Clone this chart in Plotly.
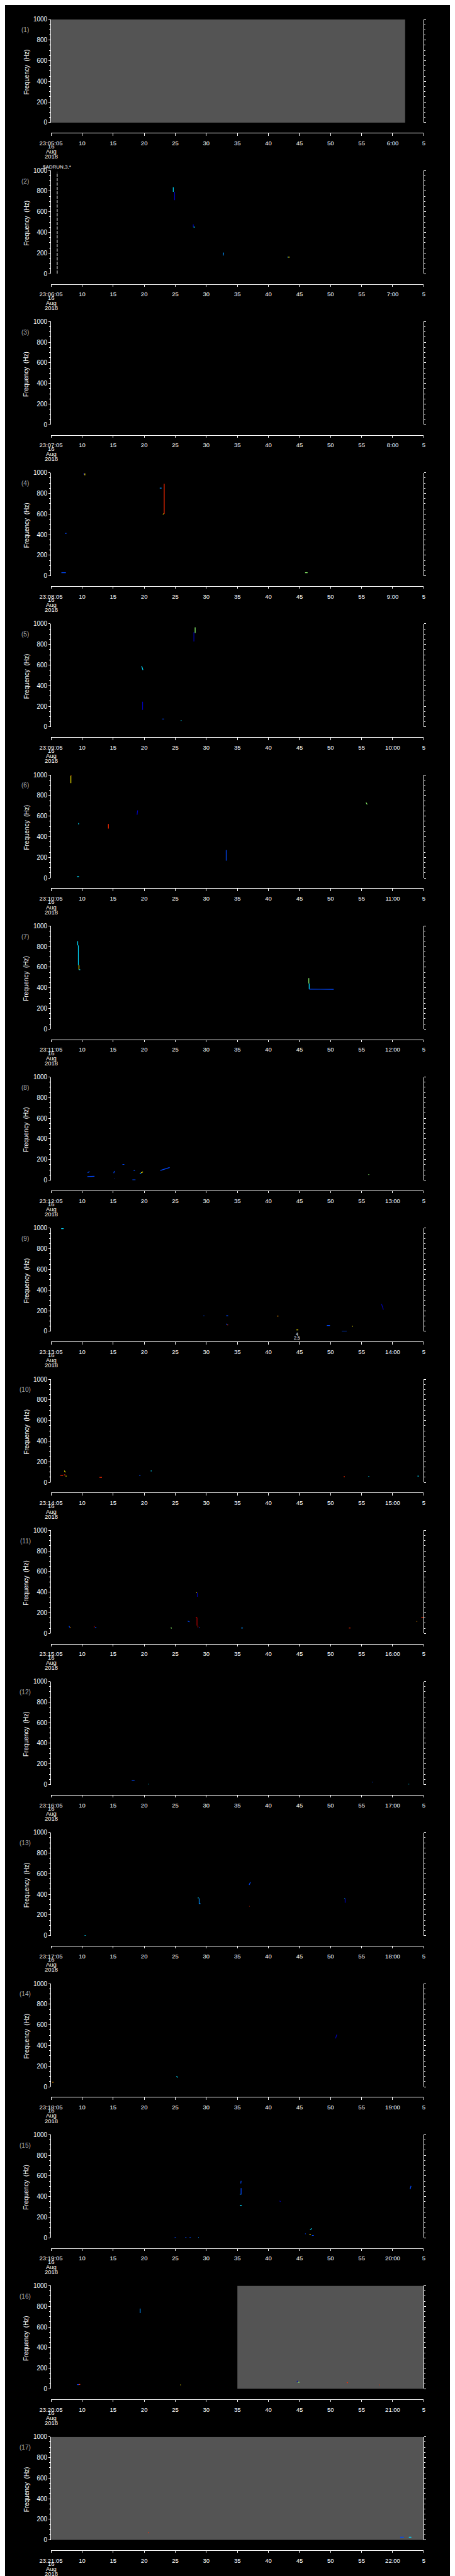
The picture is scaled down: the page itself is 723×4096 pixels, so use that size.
import plotly.graph_objects as go

# ---------------- data ----------------
N_PANELS = 17
FREQ_TICKS = [0, 200, 400, 600, 800, 1000]
TIME_TICKS = [0, 5, 10, 15, 20, 25, 30, 35, 40, 45, 50, 55, 60]
MID_TICK_TEXT = ["10", "15", "20", "25", "30", "35", "40", "45", "50", "55"]
DATE_LINES = ["16", "Aug", "2018"]

# no-data (gray) blocks: panel, start s, end s
GAP_PANEL = [1, 16, 17]
GAP_T0 = [0, 30, 0]
GAP_T1 = [57, 60, 60]

COLORS = {
    "dblue": "#0000b8", "blue": "#0048ff", "lblue": "#0090ff", "cyan": "#00dcff",
    "green": "#90ff70", "yellow": "#ffee00", "orange": "#ff9a00", "red": "#ff2a00",
    "dred": "#b00000",
}

# spectrogram traces: panel, t0, f0, t1, f1, colour key
SEG_PANEL = [2, 2, 2, 2, 2, 2, 2,
             4, 4, 4, 4, 4, 4, 4, 4,
             5, 5, 5, 5, 5, 5,
             6, 6, 6, 6, 6, 6, 6, 6,
             7, 7, 7, 7, 7, 7, 7,
             8, 8, 8, 8, 8, 8, 8, 8, 8, 8, 8,
             9, 9, 9, 9, 9, 9, 9, 9, 9, 9, 9,
             10, 10, 10, 10, 10, 10, 10, 10, 10, 10,
             11, 11, 11, 11, 11, 11, 11, 11, 11, 11, 11, 11, 11, 11, 11, 11,
             12, 12, 12, 12,
             13, 13, 13, 13, 13, 13, 13, 13,
             14, 14, 14,
             15, 15, 15, 15, 15, 15, 15, 15, 15, 15, 15, 15, 15, 15,
             16, 16, 16, 16, 16, 16, 16, 16,
             17, 17, 17]
SEG_T0 = [19.68, 19.9, 22.9, 22.95, 27.7, 38.05, 38.2,
          5.3, 5.45, 17.5, 18.22, 18.0, 2.25, 1.67, 40.9,
          23.2, 23.0, 14.6, 14.74, 17.9, 20.9,
          3.2, 3.2, 4.44, 9.24, 13.85, 28.2, 50.7, 4.2,
          4.3, 4.4, 4.5, 4.5, 41.5, 41.56, 41.56,
          5.9, 5.85, 10.1, 10.2, 11.5, 13.3, 13.1, 14.3, 14.5, 17.6, 51.1,
          1.64, 24.56, 28.2, 28.2, 28.4, 36.4, 39.5, 44.4, 46.8, 48.45, 53.2,
          1.5, 2.15, 2.1, 2.35, 7.8, 14.2, 16.05, 47.1, 51.1, 59.0,
          23.4, 23.55, 23.3, 23.5, 23.65, 23.8, 2.9, 3.1, 6.95, 7.1, 19.3, 22.0, 30.6, 47.95, 58.85, 59.6,
          13.0, 15.7, 51.65, 57.55,
          5.4, 23.7, 23.85, 23.85, 31.9, 31.9, 47.2, 47.35,
          45.8, 20.2, 0.2,
          30.55, 30.6, 30.4, 30.4, 36.8, 57.8, 19.9, 21.6, 22.3, 23.7, 41.7, 40.9, 41.6, 42.0,
          14.35, 4.2, 4.5, 20.8, 39.6, 39.7, 47.6, 52.8,
          15.6, 56.2, 57.6]
SEG_F0 = [837, 793, 478, 451, 175, 160, 160,
          997, 993, 850, 892, 597, 412, 30, 30,
          966, 919, 589, 245, 77, 61,
          992, 998, 532, 523, 613, 271, 732, 13,
          852, 811, 619, 576, 495, 442, 387,
          72, 35, 68, 16, 153, 94, 3, 61, 70, 94, 55,
          995, 150, 150, 73, 63, 147, 13, 56, 1, 50, 265,
          68, 113, 73, 60, 48, 68, 111, 55, 58, 60,
          395, 395, 155, 155, 76, 58, 73, 58, 73, 57, 58, 121, 53, 53, 115, 152,
          42, 2, 23, 2,
          1, 371, 362, 310, 492, 284, 361, 361,
          468, 102, 44,
          527, 482, 421, 315, 358, 471, 2, 2, 2, 2, 79, 39, 31, 23,
          779, 42, 43, 39, 77, 65, 60, 39,
          69, 26, 26]
SEG_T1 = [19.68, 19.9, 22.9, 23.15, 27.8, 38.2, 38.4,
          5.3, 5.45, 17.8, 18.22, 18.15, 2.5, 2.4, 41.3,
          23.2, 23.0, 14.8, 14.74, 18.2, 21.0,
          3.2, 3.3, 4.44, 9.24, 13.95, 28.2, 50.9, 4.5,
          4.3, 4.4, 4.5, 4.7, 41.5, 41.56, 45.5,
          6.2, 7.0, 10.2, 10.25, 11.8, 13.5, 13.6, 14.5, 14.8, 19.1, 51.2,
          2.03, 24.66, 28.5, 28.4, 28.5, 36.6, 39.8, 44.9, 47.6, 48.6, 53.5,
          1.95, 2.3, 2.3, 2.5, 8.2, 14.4, 16.2, 47.3, 51.2, 59.2,
          23.5, 23.55, 23.5, 23.5, 23.65, 23.9, 3.0, 3.2, 6.95, 7.3, 19.4, 22.3, 30.9, 48.2, 58.95, 60.0,
          13.45, 15.8, 51.75, 57.65,
          5.6, 23.7, 23.85, 24.05, 32.1, 31.95, 47.25, 47.35,
          46.0, 20.4, 0.4,
          30.6, 30.6, 30.5, 30.7, 36.95, 57.95, 20.1, 21.8, 22.5, 23.8, 42.0, 41.0, 41.8, 42.3,
          14.35, 4.5, 4.7, 20.9, 39.7, 40.0, 47.8, 52.9,
          15.8, 56.8, 58.0]
SEG_F1 = [793, 713, 451, 451, 204, 160, 160,
          980, 975, 850, 602, 602, 412, 30, 30,
          910, 829, 552, 165, 77, 63,
          919, 998, 521, 479, 656, 168, 713, 13,
          811, 619, 576, 576, 442, 387, 385,
          85, 38, 89, 16, 153, 94, 3, 70, 81, 123, 55,
          995, 150, 150, 63, 60, 147, 13, 56, 1, 50, 210,
          68, 97, 73, 60, 48, 68, 111, 55, 58, 60,
          395, 356, 155, 76, 58, 58, 58, 58, 58, 57, 48, 111, 53, 53, 115, 152,
          42, 2, 23, 2,
          1, 362, 310, 310, 519, 284, 361, 319,
          505, 89, 44,
          552, 419, 421, 315, 350, 503, 2, 2, 2, 2, 90, 39, 31, 23,
          734, 42, 43, 39, 65, 65, 60, 39,
          69, 26, 26]
SEG_COLOR = ["cyan", "dblue", "dblue", "cyan", "lblue", "lblue", "yellow",
             "dblue", "yellow", "lblue", "red", "yellow", "blue", "blue", "green",
             "green", "dblue", "cyan", "dblue", "blue", "cyan",
             "yellow", "red", "cyan", "red", "dblue", "blue", "green", "cyan",
             "cyan", "cyan", "yellow", "cyan", "green", "cyan", "blue",
             "blue", "blue", "blue", "blue", "blue", "blue", "blue", "lblue", "yellow", "blue", "green",
             "cyan", "blue", "blue", "blue", "red", "orange", "yellow", "blue", "blue", "yellow", "dblue",
             "red", "yellow", "red", "yellow", "red", "blue", "cyan", "red", "cyan", "cyan",
             "yellow", "dblue", "dred", "dred", "dred", "blue", "blue", "orange", "dred", "blue", "green", "blue", "lblue", "red", "orange", "red",
             "blue", "cyan", "blue", "cyan",
             "cyan", "cyan", "lblue", "lblue", "blue", "red", "cyan", "dblue",
             "dblue", "cyan", "orange",
             "blue", "blue", "cyan", "cyan", "dblue", "blue", "blue", "blue", "blue", "lblue", "cyan", "blue", "yellow", "blue",
             "lblue", "blue", "red", "yellow", "dblue", "green", "red", "red",
             "red", "blue", "cyan"]

# event marker in panel 2
EVENT_PANEL = 2
EVENT_T = 1.0
EVENT_LABEL = "$ADRUN,3,*"
# small annotation in panel 9
NOTE_PANEL = 9
NOTE_T = 39.6
NOTE_TEXT = ["4", "2.5"]

# ---------------- layout geometry (reference pixels) ----------------
REF_W, REF_H = 1024.0, 5802.0
X_LEFT, X_RIGHT = 80.3, 944.3
TOP0, BOT0, XAX0, PERIOD = 24.0, 257.0, 280.3, 341.3
FONT = "Liberation Sans"


def py(y):
    return 1 - y / REF_H


def px(x):
    return x / REF_W


def ax_name(k):
    return "" if k == 1 else str(k)


fig = go.Figure()
layout = dict(
    width=723, height=4096, margin=dict(l=0, r=0, t=0, b=0),
    paper_bgcolor="black", plot_bgcolor="black", showlegend=False,
    font=dict(family=FONT, color="white"),
)
annotations = []
shapes = []

for k in range(1, N_PANELS + 1):
    sfx = ax_name(k)
    top = TOP0 + PERIOD * (k - 1)
    bot = BOT0 + PERIOD * (k - 1)
    xax = XAX0 + PERIOD * (k - 1)
    ticktext = ["23:%02d:05" % (k + 4)] + MID_TICK_TEXT + ["%d:00" % (k + 5), "5"]
    layout["xaxis" + sfx] = dict(
        domain=[px(X_LEFT), px(X_RIGHT)], range=[0, 60], anchor="free", position=py(xax),
        showline=True, linecolor="white", linewidth=1, ticks="outside", ticklen=3.3,
        tickwidth=1, tickcolor="white", tickvals=TIME_TICKS, ticktext=ticktext,
        tickfont=dict(size=9.5, color="white", family=FONT), showgrid=False, zeroline=False,
        ticklabelstandoff=4,
    )
    layout["yaxis" + sfx] = dict(
        domain=[py(bot), py(top)], range=[0, 1000], anchor="x" + sfx,
        showline=True, linecolor="white", linewidth=1, mirror="ticks",
        ticks="outside", ticklen=2.9, tickwidth=1, tickcolor="white",
        tickvals=FREQ_TICKS, tickfont=dict(size=10, color="white", family=FONT),
        minor=dict(dtick=50, ticks="outside", ticklen=1.9, tickcolor="white", tickwidth=1),
        showgrid=False, zeroline=False,
    )
    # make sure every subplot exists
    fig.add_trace(go.Scatter(x=[None], y=[None], mode="lines", xaxis="x" + sfx,
                             yaxis="y" + sfx, hoverinfo="skip"))
    # date lines under first tick
    for off, txt in zip([30.5, 42.0, 53.5], DATE_LINES):
        annotations.append(dict(
            x=0, xref="x" + sfx, y=py(xax + off), yref="paper", text=txt, showarrow=False,
            xanchor="center", yanchor="middle", font=dict(size=9.5, color="white", family=FONT)))
    # panel label and y title
    annotations.append(dict(
        x=px(21), xref="paper", y=py(top + 24), yref="paper", text="(%d)" % k, showarrow=False,
        xanchor="center", yanchor="middle", font=dict(size=10, color="#a8a8a8", family=FONT)))
    annotations.append(dict(
        x=px(23.5), xref="paper", y=py((top + bot) / 2 + 2), yref="paper", text="Frequency  (Hz)",
        textangle=-90, showarrow=False, xanchor="center", yanchor="middle",
        font=dict(size=10, color="white", family=FONT)))

# gray no-data blocks
for p, a, b in zip(GAP_PANEL, GAP_T0, GAP_T1):
    sfx = ax_name(p)
    shapes.append(dict(type="rect", xref="x" + sfx, yref="y" + sfx, x0=a, x1=b, y0=0, y1=1000,
                       fillcolor="#545454", line=dict(width=0), layer="below"))

# spectrogram segments
for p, t0, f0, t1, f1, c in zip(SEG_PANEL, SEG_T0, SEG_F0, SEG_T1, SEG_F1, SEG_COLOR):
    sfx = ax_name(p)
    fig.add_trace(go.Scatter(
        x=[t0, t1], y=[f0, f1], mode="lines", line=dict(color=COLORS[c], width=1.2),
        xaxis="x" + sfx, yaxis="y" + sfx, hoverinfo="skip"))

# event marker
fig.add_trace(go.Scatter(
    x=[EVENT_T, EVENT_T], y=[0, 985], mode="lines",
    line=dict(color="white", width=1, dash="5px,2px"),
    xaxis="x%d" % EVENT_PANEL, yaxis="y%d" % EVENT_PANEL, hoverinfo="skip"))
annotations.append(dict(
    x=EVENT_T, xref="x%d" % EVENT_PANEL, y=py(357), yref="paper", text=EVENT_LABEL,
    showarrow=False, xanchor="center", yanchor="middle",
    font=dict(size=8, color="white", family=FONT)))
nb = BOT0 + PERIOD * (NOTE_PANEL - 1)
for off, txt in zip([6.0, 15.3], NOTE_TEXT):
    annotations.append(dict(
        x=NOTE_T, xref="x%d" % NOTE_PANEL, y=py(nb + off), yref="paper", text=txt,
        showarrow=False, xanchor="center", yanchor="middle",
        font=dict(size=7, color="white", family=FONT)))

layout["annotations"] = annotations
layout["shapes"] = shapes
fig.update_layout(**layout)
fig.write_html("out.html")
